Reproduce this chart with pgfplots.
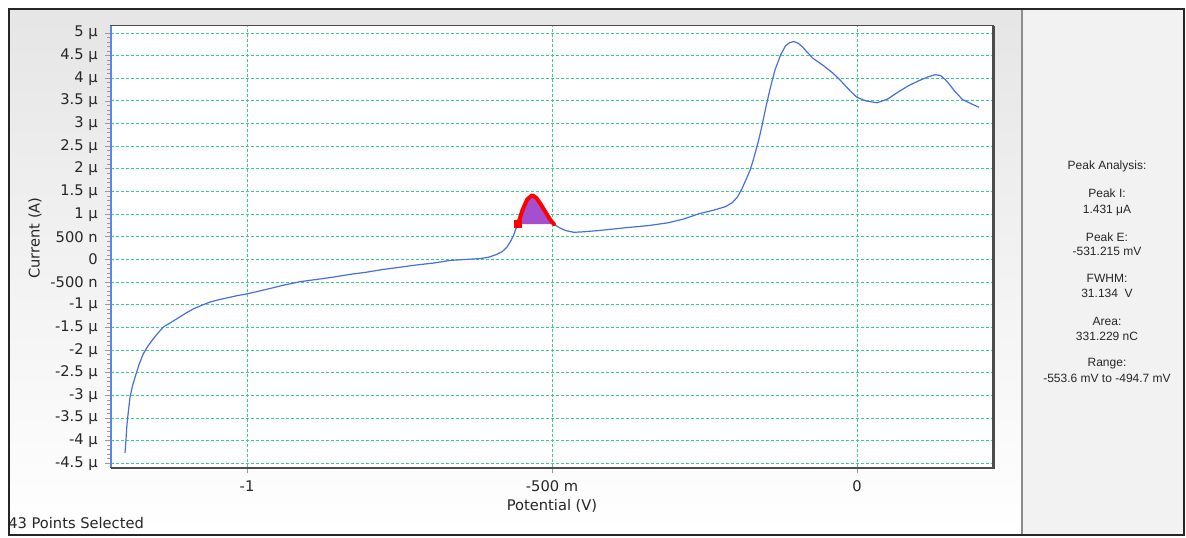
\documentclass[border=0pt]{standalone}
\usepackage{pgfplots}
\pgfplotsset{compat=1.18}
\usepackage{fontspec}
\setmainfont{DejaVu Sans}
\newfontfamily\arialfont{Liberation Sans}
\definecolor{gridgreen}{HTML}{3CCB8E}
\definecolor{curveblue}{HTML}{4670E2}
\definecolor{peakpurple}{HTML}{A54FCF}
\definecolor{axisblue}{HTML}{5B86E6}
\begin{document}
\begin{tikzpicture}[x=0.75pt,y=0.75pt]
\fill[white] (0,0) rectangle (1186,537);
\shade[top color=black!10, bottom color=white] (9,2) rectangle (1022,528);
\fill[black!5] (1022,2) rectangle (1184,528);
\draw[black!45, line width=1pt] (1022,2) -- (1022,528);
\draw[black!85, line width=1.5pt] (9,2) rectangle (1184,528);
\coordinate (AXSW) at (111,69.7);
\begin{axis}[
  at={(AXSW)}, anchor=south west,
  scale only axis, width=661.5pt, height=331pt,
  xmin=-1.223, xmax=0.223, ymin=-4.587, ymax=5.155,
  axis background/.style={fill=white},
  axis line style={draw=black!70, line width=0.8pt},
  xtick={-1,-0.5,0}, xticklabels={-1,-500 m,0},
  ytick={-4.5,-4,-3.5,-3,-2.5,-2,-1.5,-1,-0.5,0,0.5,1,1.5,2,2.5,3,3.5,4,4.5,5},
  yticklabels={-4.5 μ,-4 μ,-3.5 μ,-3 μ,-2.5 μ,-2 μ,-1.5 μ,-1 μ,-500 n,0,500 n,1 μ,1.5 μ,2 μ,2.5 μ,3 μ,3.5 μ,4 μ,4.5 μ,5 μ},
  minor y tick num=4,
  tick align=outside, tick pos=left,
  major tick length=4.5pt, minor tick length=3pt,
  tick style={black!40, line width=0.6pt},
  xmajorgrids, ymajorgrids,
  major grid style={gridgreen, dash pattern=on 2.25pt off 1.5pt, line width=0.7pt},
  ticklabel style={font=\fontsize{11}{13}\selectfont, text=black!85},
  yticklabel style={xshift=-2pt},
  xticklabel style={yshift=-2pt},
]
\addplot[curveblue, line width=0.9pt, line join=round] coordinates {
(-1.2000,-4.27) (-1.1985,-4.00) (-1.1972,-3.70) (-1.1945,-3.35) (-1.1918,-3.04)
(-1.1880,-2.80) (-1.1836,-2.60) (-1.1770,-2.32) (-1.1700,-2.08) (-1.1620,-1.90)
(-1.1536,-1.75) (-1.1450,-1.61) (-1.1372,-1.49) (-1.1260,-1.40) (-1.1152,-1.31)
(-1.1010,-1.19) (-1.0880,-1.09) (-1.0740,-1.01) (-1.0607,-0.94) (-1.0470,-0.89)
(-1.0333,-0.85) (-1.0170,-0.80) (-1.0005,-0.76) (-0.9810,-0.70) (-0.9623,-0.64)
(-0.9380,-0.56) (-0.9130,-0.49) (-0.8860,-0.44) (-0.8590,-0.39) (-0.8320,-0.33)
(-0.8040,-0.28) (-0.7770,-0.22) (-0.7490,-0.17) (-0.7220,-0.12) (-0.6950,-0.08)
(-0.6670,-0.02) (-0.6430,0.00) (-0.6180,0.02) (-0.6040,0.05) (-0.5910,0.11)
(-0.5820,0.17) (-0.5740,0.27) (-0.5680,0.40) (-0.5630,0.53) (-0.5595,0.67)
(-0.5557,0.78) (-0.5487,1.08) (-0.5405,1.33) (-0.5323,1.42) (-0.5257,1.36)
(-0.5185,1.22) (-0.5103,1.04) (-0.5021,0.86) (-0.4967,0.78) (-0.4890,0.71)
(-0.4780,0.64) (-0.4640,0.60) (-0.4500,0.61) (-0.4230,0.64) (-0.3800,0.70)
(-0.3410,0.75) (-0.3100,0.81) (-0.2850,0.89) (-0.2590,1.01) (-0.2320,1.10)
(-0.2150,1.17) (-0.2040,1.26) (-0.1960,1.38) (-0.1890,1.55) (-0.1820,1.76)
(-0.1750,1.98) (-0.1700,2.20) (-0.1650,2.44) (-0.1600,2.70) (-0.1550,3.00)
(-0.1500,3.32) (-0.1450,3.62) (-0.1400,3.90) (-0.1340,4.20) (-0.1250,4.52)
(-0.1170,4.72) (-0.1100,4.79) (-0.1030,4.81)
(-0.0960,4.77) (-0.0900,4.70) (-0.0730,4.45) (-0.0550,4.28) (-0.0400,4.12)
(-0.0290,3.98) (-0.0180,3.82) (-0.0080,3.68) (0.0000,3.58) (0.0150,3.50)
(0.0330,3.46) (0.0500,3.54) (0.0690,3.71) (0.0850,3.84) (0.1020,3.95)
(0.1180,4.04) (0.1290,4.08) (0.1370,4.06) (0.1450,3.97) (0.1530,3.84)
(0.1600,3.72) (0.1730,3.53) (0.1870,3.44) (0.2000,3.36)
};
\addplot[fill=peakpurple, draw=none] coordinates {
(-0.5557,0.78) (-0.5487,1.08) (-0.5405,1.33) (-0.5323,1.42) (-0.5257,1.36)
(-0.5185,1.22) (-0.5103,1.04) (-0.5021,0.86) (-0.4967,0.78)
} -- cycle;
\addplot[red, line width=3pt, line join=round, line cap=round] coordinates {
(-0.5557,0.78) (-0.5487,1.08) (-0.5405,1.33) (-0.5323,1.42) (-0.5257,1.36)
(-0.5185,1.22) (-0.5103,1.04) (-0.5021,0.86) (-0.4967,0.78)
};
\addplot[only marks, mark=square*, mark size=2.6pt, red] coordinates {(-0.5557,0.78)};
\end{axis}
\draw[axisblue, line width=2pt] (111,69.7) -- (111,511);
\draw[black!70, line width=1.6pt] (111,68.6) -- (993.9,68.6) -- (993.9,511);
\begin{scope}[font=\fontsize{11}{13}\selectfont, text=black!85]
\node[rotate=90] at (35,299) {Current (A)};
\node at (552,31) {Potential (V)};
\node[anchor=west, inner sep=0pt] at (8,14) {43 Points Selected};
\end{scope}
\begin{scope}[font=\arialfont\fontsize{9}{11}\selectfont, text=black!85]
\node at (1107,371) {Peak Analysis:};
\node at (1107,343.7) {Peak I:};
\node at (1107,327) {1.431 μA};
\node at (1107,299.7) {Peak E:};
\node at (1107,286) {-531.215 mV};
\node at (1107,258.7) {FWHM:};
\node at (1107,243.7) {31.134\ \ V};
\node at (1107,215.3) {Area:};
\node at (1107,201) {331.229 nC};
\node at (1107,173.7) {Range:};
\node at (1107,158.7) {-553.6 mV to -494.7 mV};
\end{scope}
\end{tikzpicture}
\end{document}
